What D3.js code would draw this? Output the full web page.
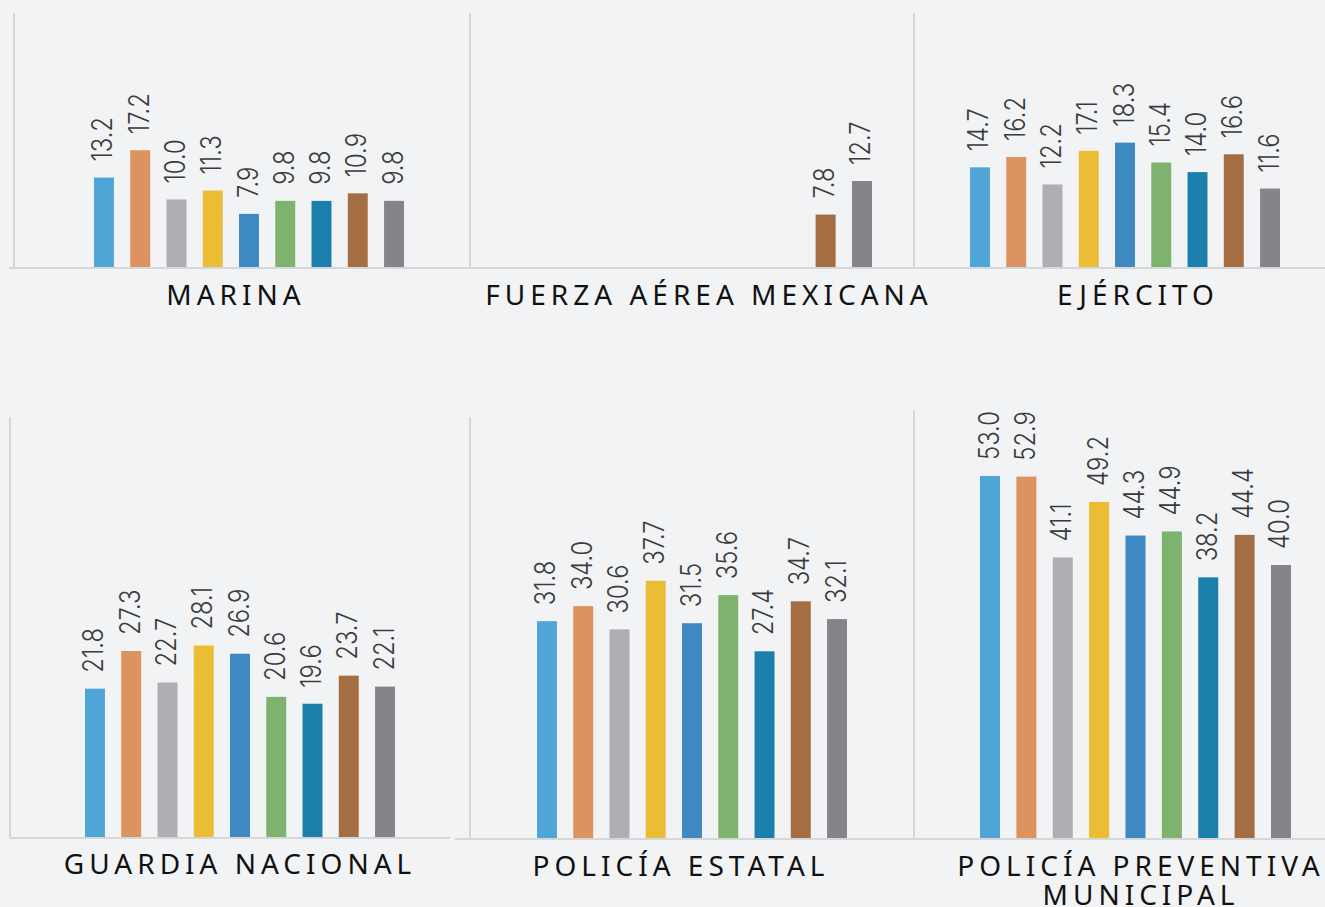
<!DOCTYPE html>
<html>
<head>
<meta charset="utf-8">
<script src="https://cdn.jsdelivr.net/npm/d3@7"></script>
<style>
  body { margin: 0; background: #f2f3f5; }
</style>
</head>
<body>
<script>
// series (one colour per bar inside every panel)
const series = ["s1", "s2", "s3", "s4", "s5", "s6", "s7", "s8", "s9"];
const colors = ["#4fa5d5", "#dd9360", "#aeafb3", "#ebbd35", "#3e89c2", "#7eb26f", "#1b7fac", "#a46e42", "#838589"];

// panel titles
const categories = ["MARINA", "FUERZA AÉREA MEXICANA", "EJÉRCITO", "GUARDIA NACIONAL", "POLICÍA ESTATAL", "POLICÍA PREVENTIVA MUNICIPAL"];

// values per panel
const marina = [13.2, 17.2, 10.0, 11.3, 7.9, 9.8, 9.8, 10.9, 9.8];
const fuerzaAerea = [null, null, null, null, null, null, null, 7.8, 12.7];
const ejercito = [14.7, 16.2, 12.2, 17.1, 18.3, 15.4, 14.0, 16.6, 11.6];
const guardia = [21.8, 27.3, 22.7, 28.1, 26.9, 20.6, 19.6, 23.7, 22.1];
const estatal = [31.8, 34.0, 30.6, 37.7, 31.5, 35.6, 27.4, 34.7, 32.1];
const municipal = [53.0, 52.9, 41.1, 49.2, 44.3, 44.9, 38.2, 44.4, 40.0];

const values = [marina, fuerzaAerea, ejercito, guardia, estatal, municipal];

var width = 1325
var height = 907
const pxPerUnit = 6.85

// where each little chart sits on the page
const layout = [
    {bars: [94, 404], base: 268, axisX: 14, axisTop: 13, lineFrom: 9, lineTo: 470, labelX: 236, labelY: 305},
    {bars: [561, 872], base: 268, axisX: 470, axisTop: 13, lineFrom: 470, lineTo: 914, labelX: 709, labelY: 305},
    {bars: [970, 1280], base: 268, axisX: 914, axisTop: 13, lineFrom: 914, lineTo: 1325, labelX: 1138, labelY: 305},
    {bars: [85, 395], base: 838, axisX: 10, axisTop: 417, lineFrom: 10, lineTo: 450, labelX: 240, labelY: 874},
    {bars: [537, 847], base: 839, axisX: 470, axisTop: 417, lineFrom: 455, lineTo: 914, labelX: 681, labelY: 876},
    {bars: [980, 1291], base: 839, axisX: 914, axisTop: 410, lineFrom: 914, lineTo: 1325, labelX: 1141, labelY: 876}
]

const svg = d3.select('body')
    .append('svg')
    .attr('width', width)
    .attr('height', height)

svg.append('rect')
    .attr('width', width)
    .attr('height', height)
    .attr('fill', '#f2f3f5')

const fmt = d3.format('.1f')

categories.forEach((cat, i) => {
    const L = layout[i]
    const data = values[i].map((v, j) => ({key: series[j], value: v, color: colors[j]}))

    const xScale = d3.scaleBand()
        .domain(series)
        .range(L.bars)
        .paddingInner(0.45)
        .paddingOuter(0)

    const yScale = d3.scaleLinear()
        .domain([0, 60])
        .range([L.base, L.base - 60 * pxPerUnit])

    const g = svg.append('g')

    // frame lines
    g.append('line')
        .attr('x1', L.axisX).attr('x2', L.axisX)
        .attr('y1', yScale(0)).attr('y2', L.axisTop)
        .attr('stroke', '#d6d7d9')
        .attr('stroke-width', 2)
    g.append('line')
        .attr('x1', L.lineFrom).attr('x2', L.lineTo)
        .attr('y1', yScale(0)).attr('y2', yScale(0))
        .attr('stroke', '#d6d7d9')
        .attr('stroke-width', 2)

    const shown = data.filter(d => d.value != null)

    g.selectAll('rect.bar')
        .data(shown)
        .enter()
        .append('rect')
        .attr('class', 'bar')
        .attr('x', d => xScale(d.key))
        .attr('y', d => yScale(d.value))
        .attr('width', xScale.bandwidth())
        .attr('height', d => yScale(0) - yScale(d.value) - 1)
        .attr('fill', d => d.color)

    // rotated value labels
    g.selectAll('text.val')
        .data(shown)
        .enter()
        .append('text')
        .attr('class', 'val')
        .attr('transform', d => 'translate(' + (xScale(d.key) + xScale.bandwidth() / 2 + 8.5) + ',' + (yScale(d.value) - 16) + ') rotate(-90) scale(0.85,1)')
        .attr('font-family', 'Inter, "Open Sans", sans-serif')
        .attr('font-weight', 300)
        .attr('font-size', '28px')
        .attr('fill', '#3b3b3b')
        .text(d => fmt(d.value))

    // panel title
    const words = cat === "POLICÍA PREVENTIVA MUNICIPAL" ? ["POLICÍA PREVENTIVA", "MUNICIPAL"] : [cat]
    const title = g.append('text')
        .attr('x', L.labelX)
        .attr('y', L.labelY)
        .attr('text-anchor', 'middle')
        .attr('font-family', '"Noto Sans", sans-serif')
        .attr('font-size', '28px')
        .attr('letter-spacing', '5px')
        .attr('fill', '#111')
    words.forEach((w, k) => {
        title.append('tspan')
            .attr('x', L.labelX)
            .attr('dy', k === 0 ? 0 : 29)
            .text(w)
    })
})
</script>
</body>
</html>
